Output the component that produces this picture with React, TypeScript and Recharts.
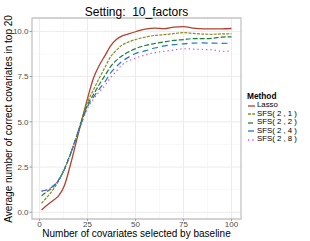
import React from 'react';
import { LineChart, Line, XAxis, YAxis, CartesianGrid, ReferenceArea } from 'recharts';

const xValues = [1, 4, 7, 10, 13, 16, 19, 22, 25, 28, 31, 34, 37, 40, 43, 46, 50, 55, 60, 65, 70, 75, 80, 85, 90, 95, 100];

const lasso = [0.13, 0.4, 0.65, 0.92, 1.5, 2.6, 3.85, 5.1, 6.3, 7.4, 8.1, 8.65, 9.2, 9.55, 9.75, 9.85, 9.98, 10.12, 10.18, 10.15, 10.24, 10.26, 10.18, 10.14, 10.14, 10.14, 10.16];
const sfs21 = [0.5, 0.85, 1.25, 1.75, 2.4, 3.2, 4.1, 5.15, 6.1, 6.75, 7.4, 8.0, 8.6, 8.95, 9.25, 9.4, 9.55, 9.68, 9.78, 9.82, 9.88, 9.93, 9.89, 9.85, 9.84, 9.86, 9.87];
const sfs22 = [0.92, 1.15, 1.4, 1.8, 2.4, 3.2, 4.1, 5.05, 5.95, 6.5, 7.05, 7.55, 8.05, 8.4, 8.65, 8.85, 9.05, 9.22, 9.33, 9.42, 9.5, 9.55, 9.6, 9.6, 9.62, 9.68, 9.7];
const sfs24 = [1.18, 1.25, 1.45, 1.8, 2.4, 3.2, 4.1, 5.0, 5.85, 6.35, 6.8, 7.2, 7.7, 8.05, 8.35, 8.55, 8.78, 8.92, 9.08, 9.2, 9.27, 9.31, 9.35, 9.36, 9.35, 9.34, 9.35];
const sfs28 = [1.15, 1.25, 1.45, 1.8, 2.4, 3.2, 4.1, 4.95, 5.75, 6.25, 6.65, 7.0, 7.45, 7.8, 8.15, 8.35, 8.52, 8.7, 8.83, 8.9, 8.97, 9.04, 9.02, 9.0, 8.98, 8.9, 8.92];

const xTicks = [0, 25, 50, 75, 100];
const yTicks = [0, 2.5, 5, 7.5, 10];
const xMinor = [12.5, 37.5, 62.5, 87.5];
const yMinor = [1.25, 3.75, 6.25, 8.75];

const series = [
  { key: 'lasso', name: 'Lasso', values: lasso, color: '#B5402E', dash: undefined, width: 1.3 },
  { key: 'sfs21', name: 'SFS( 2 , 1 )', values: sfs21, color: '#8A8A24', dash: '3 1.2', width: 1.2 },
  { key: 'sfs22', name: 'SFS( 2 , 2 )', values: sfs22, color: '#1E8038', dash: '5 2', width: 1.2 },
  { key: 'sfs24', name: 'SFS( 2 , 4 )', values: sfs24, color: '#1F78C4', dash: '6 4', width: 1.2 },
  { key: 'sfs28', name: 'SFS( 2 , 8 )', values: sfs28, color: '#CC4FDB', dash: '1.3 3', width: 1.2 },
];

const data = xValues.map((x, i) => {
  const row: any = { x };
  series.forEach((s) => { row[s.key] = s.values[i]; });
  return row;
});

const font = '"Liberation Sans", Arial, sans-serif';
const xDomain = [-3.95, 104.95];
const yDomain = [-0.37, 10.74];

const LegendBox = () => (
  <div style={{ position: 'absolute', left: 247, top: 92, fontFamily: font, fontSize: 7.8, color: '#000' }}>
    <div style={{ fontWeight: 'bold', fontSize: 8.3, height: 9, lineHeight: '9px', marginBottom: 0.3 }}>Method</div>
    {series.map((s) => (
      <div key={s.key} style={{ display: 'flex', alignItems: 'center', height: 8.5, lineHeight: '8.5px', whiteSpace: 'pre' }}>
        <svg width={9} height={8} style={{ marginRight: 1, flex: 'none' }}>
          <line x1={1} y1={4} x2={8} y2={4} stroke={s.color} strokeWidth={1.3} strokeDasharray={s.dash} />
        </svg>
        <span>{s.name}</span>
      </div>
    ))}
  </div>
);

export default function App() {
  return (
    <div style={{ position: 'absolute', left: 0, top: 0, width: 310, height: 241, background: '#fff' }}>
      <LineChart width={310} height={241} data={data} margin={{ top: 18, right: 69, bottom: 0, left: 8 }}>
        <CartesianGrid
          stroke="#F3F3F3"
          strokeWidth={0.6}
          horizontalValues={yMinor}
          verticalValues={xMinor}
        />
        <CartesianGrid
          stroke="#EBEBEB"
          strokeWidth={1}
          horizontalValues={yTicks}
          verticalValues={xTicks}
        />
        <XAxis
          dataKey="x"
          type="number"
          domain={xDomain}
          ticks={xTicks}
          allowDataOverflow
          height={22}
          axisLine={false}
          tickLine={{ stroke: '#9A9A9A' }}
          tickSize={2}
          tickMargin={0}
          tick={{ fontSize: 8, fill: '#4D4D4D', fontFamily: font }}
        />
        <YAxis
          type="number"
          domain={yDomain}
          ticks={yTicks}
          allowDataOverflow
          width={24}
          axisLine={false}
          tickLine={{ stroke: '#9A9A9A' }}
          tickSize={2.5}
          tickMargin={1}
          tickFormatter={(v: number) => v.toFixed(1)}
          tick={{ fontSize: 8, fill: '#4D4D4D', fontFamily: font }}
        />
        <ReferenceArea
          x1={xDomain[0]}
          x2={xDomain[1]}
          y1={yDomain[0]}
          y2={yDomain[1]}
          fill="none"
          stroke="#C4C4C4"
          strokeWidth={1.3}
        />
        {series.map((s) => (
          <Line
            key={s.key}
            type="monotone"
            dataKey={s.key}
            name={s.name}
            stroke={s.color}
            strokeWidth={s.width}
            strokeDasharray={s.dash}
            dot={false}
            isAnimationActive={false}
          />
        ))}
      </LineChart>
      <LegendBox />
      <div style={{ position: 'absolute', left: 32, width: 209, top: 5, textAlign: 'center', fontFamily: font, fontSize: 12, color: '#000', whiteSpace: 'pre' }}>
        Setting:  10_factors
      </div>
      <div style={{ position: 'absolute', left: 32, width: 209, top: 227.5, textAlign: 'center', fontFamily: font, fontSize: 10, lineHeight: '11px', color: '#000', whiteSpace: 'nowrap' }}>
        Number of covariates selected by baseline
      </div>
      <div
        style={{
          position: 'absolute',
          left: 8,
          top: 118.5,
          transform: 'translate(-50%, -50%) rotate(-90deg)',
          fontFamily: font,
          fontSize: 10,
          color: '#000',
          whiteSpace: 'nowrap',
        }}
      >
        Average number of correct covariates in top 20
      </div>
    </div>
  );
}
